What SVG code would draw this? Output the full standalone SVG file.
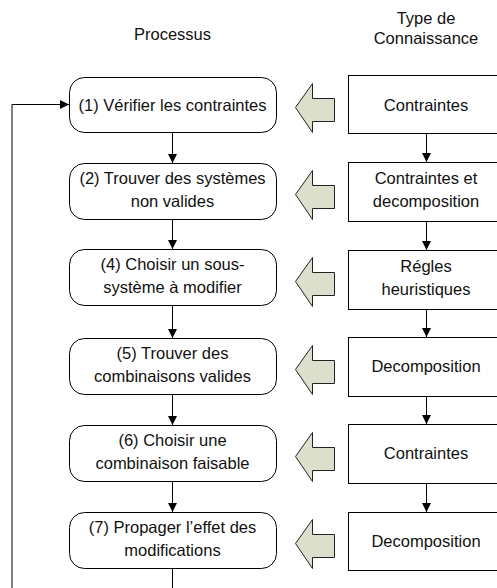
<svg xmlns="http://www.w3.org/2000/svg" width="497" height="588" viewBox="0 0 497 588">
  <defs>
    <marker id="ah" viewBox="0 0 10 10" refX="10" refY="5" markerWidth="9" markerHeight="9" markerUnits="userSpaceOnUse" orient="auto">
      <path d="M0,0 L10,5 L0,10 Z" fill="#000"/>
    </marker>
    <!-- wide left-pointing block arrow, drawn with tip at origin -->
    <path id="blk" d="M0,0 L17,-24 L17,-9 L39,-9 L39,14 L17,14 L17,25 Z"/>
  </defs>
  <style>
    text { font-family: "Liberation Sans", Arial, sans-serif; font-size: 16.5px; fill: #111; text-anchor: middle; }
    .step { fill: #fff; stroke: #000; stroke-width: 1; }
    .know { fill: #fff; stroke: #000; stroke-width: 1; }
    .blk { fill: #dcdfcb; stroke: #222; stroke-width: 1; }
    .conn { fill: none; stroke: #000; stroke-width: 1; }
  </style>
  <rect width="497" height="588" fill="#fff"/>

  <!-- column headings -->
  <g id="heading-processus"><text x="172.5" y="40">Processus</text></g>
  <g id="heading-type"><text x="426" y="24">Type de</text><text x="426" y="44">Connaissance</text></g>

  <!-- process steps -->
  <g id="p1"><rect class="step" x="69.5" y="77.5" width="207" height="55" rx="15"/><text x="172.5" y="110.5">(1) Vérifier les contraintes</text></g>
  <g id="p2"><rect class="step" x="69.5" y="163.5" width="207" height="56" rx="15"/><text x="172.5" y="184">(2) Trouver des systèmes</text><text x="172.5" y="207">non valides</text></g>
  <g id="p4"><rect class="step" x="69.5" y="249.5" width="207" height="56" rx="15"/><text x="172.5" y="270">(4) Choisir un sous-</text><text x="172.5" y="293">système à modifier</text></g>
  <g id="p5"><rect class="step" x="69.5" y="338.5" width="207" height="56" rx="15"/><text x="172.5" y="359">(5) Trouver des</text><text x="172.5" y="382">combinaisons valides</text></g>
  <g id="p6"><rect class="step" x="69.5" y="425.5" width="207" height="56" rx="15"/><text x="172.5" y="446">(6) Choisir une</text><text x="172.5" y="469">combinaison faisable</text></g>
  <g id="p7"><rect class="step" x="69.5" y="512.5" width="207" height="56" rx="15"/><text x="172.5" y="533">(7) Propager l’effet des</text><text x="172.5" y="556">modifications</text></g>

  <!-- knowledge types -->
  <g id="k1"><rect class="know" x="348.5" y="75.5" width="160" height="58"/><text x="426" y="110.5">Contraintes</text></g>
  <g id="k2"><rect class="know" x="348.5" y="162.5" width="160" height="59"/><text x="426" y="184">Contraintes et</text><text x="426" y="207">decomposition</text></g>
  <g id="k3"><rect class="know" x="348.5" y="250.5" width="160" height="59"/><text x="426" y="272">Régles</text><text x="426" y="295">heuristiques</text></g>
  <g id="k4"><rect class="know" x="348.5" y="337.5" width="160" height="59"/><text x="426" y="372">Decomposition</text></g>
  <g id="k5"><rect class="know" x="348.5" y="424.5" width="160" height="59"/><text x="426" y="459">Contraintes</text></g>
  <g id="k6"><rect class="know" x="348.5" y="512.5" width="160" height="58"/><text x="426" y="547">Decomposition</text></g>

  <!-- block arrows from knowledge to process -->
  <g id="feeds">
    <use href="#blk" class="blk" x="295.5" y="107.5"/>
    <use href="#blk" class="blk" x="295.5" y="194.5"/>
    <use href="#blk" class="blk" x="295.5" y="281.5"/>
    <use href="#blk" class="blk" x="295.5" y="369.5"/>
    <use href="#blk" class="blk" x="295.5" y="456.5"/>
    <use href="#blk" class="blk" x="295.5" y="543.5"/>
  </g>

  <!-- connectors -->
  <g id="connectors">
    <line class="conn" x1="172.5" y1="133" x2="172.5" y2="163" marker-end="url(#ah)"/>
    <line class="conn" x1="172.5" y1="220" x2="172.5" y2="249" marker-end="url(#ah)"/>
    <line class="conn" x1="172.5" y1="306" x2="172.5" y2="338" marker-end="url(#ah)"/>
    <line class="conn" x1="172.5" y1="395" x2="172.5" y2="425" marker-end="url(#ah)"/>
    <line class="conn" x1="172.5" y1="482" x2="172.5" y2="512" marker-end="url(#ah)"/>
    <line class="conn" x1="426.5" y1="134" x2="426.5" y2="162" marker-end="url(#ah)"/>
    <line class="conn" x1="426.5" y1="222" x2="426.5" y2="250" marker-end="url(#ah)"/>
    <line class="conn" x1="426.5" y1="310" x2="426.5" y2="337" marker-end="url(#ah)"/>
    <line class="conn" x1="426.5" y1="397" x2="426.5" y2="424" marker-end="url(#ah)"/>
    <line class="conn" x1="426.5" y1="484" x2="426.5" y2="512" marker-end="url(#ah)"/>
    <!-- loop back from step 7 to step 1 -->
    <path class="conn" d="M172.5,569 L172.5,600 M12,600 L12,104.5 L69,104.5" marker-end="url(#ah)"/>
  </g>
</svg>
